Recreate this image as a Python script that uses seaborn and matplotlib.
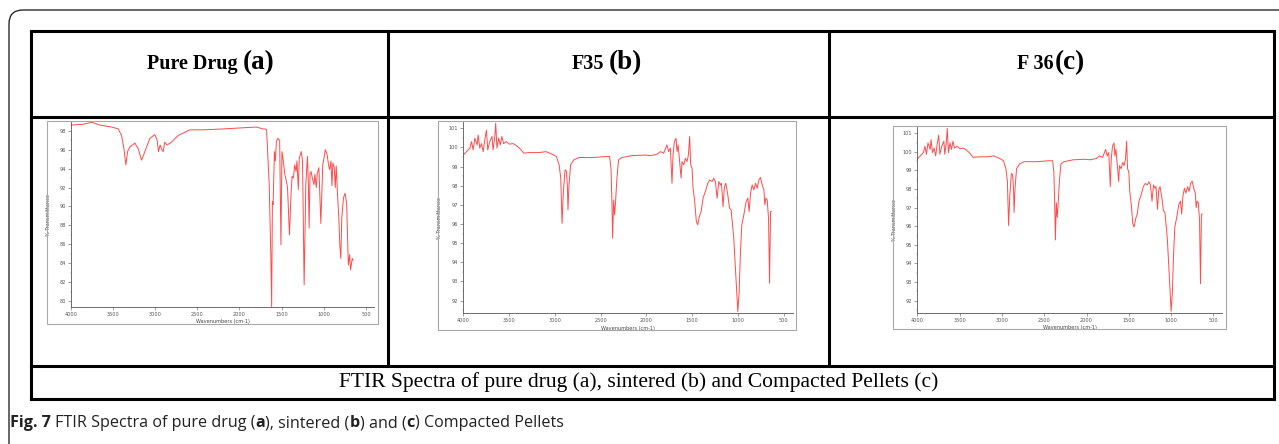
import matplotlib
matplotlib.use("Agg")
import matplotlib.pyplot as plt
import seaborn as sns
from matplotlib.patches import Rectangle, FancyBboxPatch
from matplotlib.lines import Line2D
from matplotlib.ticker import MultipleLocator
from matplotlib.transforms import IdentityTransform

# pure drug spectrum (a)
pure_wavenumber = [4000, 3850, 3752, 3653, 3515, 3436, 3397, 3369, 3346, 3326, 3298, 3239, 3200, 3160, 3121,
                   3062, 3003, 2975, 2960, 2940, 2920, 2904, 2885, 2857, 2806, 2727, 2589, 2431, 2195, 1998,
                   1801, 1722, 1700, 1678, 1647, 1628, 1618, 1609, 1601, 1585, 1574, 1562, 1543, 1523, 1508,
                   1496, 1484, 1461, 1446, 1430, 1407, 1388, 1376, 1360, 1345, 1329, 1318, 1302, 1291, 1267,
                   1252, 1233, 1213, 1194, 1182, 1174, 1163, 1151, 1136, 1116, 1105, 1089, 1077, 1058, 1035,
                   1012, 981, 961, 942, 930, 915, 903, 892, 876, 864, 853, 837, 822, 810, 798,
                   787, 767, 748, 729, 709, 694, 682, 663, 652]
pure_transmittance = [98.6, 98.7, 98.9, 98.6, 98.4, 98.2, 97.5, 96.1, 94.4, 95.8, 96.3, 96.7, 96.1, 94.9, 95.8,
                      97.2, 97.6, 97.0, 95.8, 96.5, 96.0, 95.8, 96.8, 96.5, 96.8, 97.5, 98.1, 98.1, 98.2, 98.3,
                      98.4, 98.2, 98.2, 98.1, 92.3, 84.9, 79.4, 90.5, 90.2, 95.8, 94.8, 96.9, 97.2, 97.0, 85.95,
                      95.8, 95.1, 93.35, 92.8, 92.0, 87.0, 91.3, 93.2, 93.0, 94.4, 93.7, 94.8, 91.8, 95.1, 95.8,
                      94.8, 81.7, 92.3, 95.3, 92.3, 87.7, 93.4, 93.7, 93.0, 92.3, 93.4, 92.0, 93.5, 94.1, 88.2,
                      94.4, 96.0, 95.5, 94.3, 93.9, 94.8, 92.2, 94.6, 94.1, 92.0, 94.3, 91.3, 88.8, 85.95, 84.5,
                      88.8, 90.9, 91.4, 90.3, 83.8, 84.9, 83.3, 84.5, 84.3]

# pellet spectrum, F35 (b) and F36 (c) show the same trace
pellet_wavenumber = [4000, 3964, 3928, 3910, 3892, 3874, 3848, 3838, 3820, 3801, 3783, 3765, 3747, 3733, 3711,
                     3686, 3675, 3657, 3646, 3632, 3614, 3596, 3578, 3560, 3531, 3495, 3458, 3422, 3386, 3339,
                     3278, 3170, 3098, 3025, 2982, 2953, 2935, 2921, 2906, 2888, 2874, 2863, 2856, 2845, 2827,
                     2791, 2736, 2592, 2448, 2401, 2386, 2376, 2368, 2357, 2346, 2336, 2321, 2303, 2267, 2159,
                     2015, 1956, 1883, 1847, 1810, 1774, 1756, 1737, 1719, 1708, 1693, 1675, 1664, 1653, 1639,
                     1620, 1610, 1591, 1573, 1555, 1540, 1526, 1515, 1500, 1489, 1471, 1453, 1438, 1420, 1401,
                     1380, 1354, 1328, 1307, 1281, 1263, 1245, 1226, 1208, 1190, 1179, 1161, 1146, 1131, 1109,
                     1091, 1073, 1044, 1022, 1000, 985, 971, 956, 934, 909, 890, 876, 861, 843, 825,
                     806, 788, 770, 752, 733, 715, 704, 693, 679, 664, 653, 642, 631]
pellet_transmittance = [99.6, 99.78, 99.96, 100.3, 99.87, 100.48, 100.13, 100.65, 99.96, 100.2, 99.78, 100.4, 100.9, 99.87, 100.3,
                        100.57, 99.87, 100.48, 101.26, 99.96, 100.48, 100.13, 100.57, 100.2, 100.3, 100.17, 100.2, 100.1, 99.96, 99.7,
                        99.73, 99.73, 99.78, 99.64, 99.52, 99.09, 98.4, 96.04, 97.7, 98.83, 98.77, 98.04, 96.74, 98.04, 99.09,
                        99.35, 99.47, 99.47, 99.52, 99.52, 98.91, 97.17, 95.26, 97.26, 96.48, 97.17, 98.4, 99.35, 99.47, 99.57,
                        99.6, 99.57, 99.64, 99.78, 99.7, 100.13, 99.78, 99.96, 98.13, 99.6, 100.3, 100.48, 99.78, 100.13, 99.43,
                        98.4, 99.26, 99.09, 99.43, 99.26, 99.6, 100.57, 99.09, 98.91, 97.87, 97.17, 96.13, 95.96, 96.39, 96.65,
                        97.35, 97.7, 98.13, 98.3, 98.22, 98.39, 98.22, 97.35, 98.22, 98.04, 98.13, 96.91, 97.96, 98.13, 97.52,
                        96.83, 96.74, 95.26, 93.35, 91.43, 92.48, 94.57, 95.96, 96.48, 97.17, 97.35, 96.65, 97.61, 98.04, 97.78,
                        98.13, 97.87, 98.3, 98.43, 98.04, 97.78, 97.0, 97.35, 97.26, 96.3, 92.91, 96.65, 96.65]

header_names = ["Pure Drug", "F35", "F 36"]
header_tags = ["(a)", "(b)", "(c)"]
x_ticks = [4000, 3500, 3000, 2500, 2000, 1500, 1000, 500]
pure_yticks = [80, 82, 84, 86, 88, 90, 92, 94, 96, 98]
pellet_yticks = [92, 93, 94, 95, 96, 97, 98, 99, 100, 101]
table_caption = "FTIR Spectra of pure drug (a), sintered (b) and Compacted Pellets (c)"

W, H = 1279, 444
sns.set_style("white")
plt.rcParams["font.family"] = ["DejaVu Sans"]

fig = plt.figure(figsize=(W / 100, H / 100), dpi=100)
PX = IdentityTransform()


def add_axes_px(left, top, right, bottom):
    return fig.add_axes([left / W, 1 - bottom / H, (right - left) / W, (bottom - top) / H])


def hline(y, x0, x1, lw=2.2, color="black"):
    fig.add_artist(Line2D([x0, x1], [H - y, H - y], transform=PX, lw=lw, color=color,
                          solid_capstyle="projecting"))


def vline(x, y0, y1, lw=2.2, color="black"):
    fig.add_artist(Line2D([x, x], [H - y0, H - y1], transform=PX, lw=lw, color=color,
                          solid_capstyle="projecting"))


def rich_text(x, y, parts, center=False):
    # parts: (text, gap before in px, text kwargs)
    r = fig.canvas.get_renderer()
    items = []
    for s, gap, kw in parts:
        t = fig.text(0, H - y, s, transform=PX, va="baseline", ha="left", **kw)
        items.append((t, t.get_window_extent(r).width, gap))
    total = sum(w + g for _, w, g in items)
    cx = x - total / 2 if center else x
    for t, w, g in items:
        t.set_x(cx + g)
        cx += g + w


# outer rounded frame of the figure box
fig.add_artist(FancyBboxPatch((9, -60), 1320, H - 10 + 60, boxstyle="round,pad=0,rounding_size=14",
                              transform=PX, fill=False, lw=1.0, ec="#2a2a2a"))

# table grid
hline(31, 31, 1274)
hline(117, 31, 1274)
hline(366, 31, 1274)
hline(399, 31, 1274)
vline(31, 31, 399)
vline(1274, 31, 399)
vline(388, 31, 366)
vline(829, 31, 366)

# headers
serif_b = dict(family="Liberation Serif", weight="bold", color="black")
col_centers = [211, 607, 1051]
gaps = [5, 5, 2]
for cx, name, tag, g in zip(col_centers, header_names, header_tags, gaps):
    rich_text(cx, 69, [(name, 0, dict(size=14.5, **serif_b)), (tag, g, dict(size=19.5, **serif_b))], center=True)

fig.text(639, H - 387, table_caption, transform=PX, ha="center", va="baseline",
         family="Liberation Serif", size=15.5, color="black")

bold = dict(family="Open Sans", weight="bold", size=11.6, color="#222222")
norm = dict(family="Open Sans", size=11.6, color="#222222")
rich_text(10, 427, [("Fig. 7", 0, bold), ("FTIR Spectra of pure drug (", 4, norm), ("a", 0, bold),
                    ("), sintered (", 0, norm), ("b", 0, bold), (") and (", 0, norm), ("c", 0, bold),
                    (") Compacted Pellets", 0, norm)])

# panel frames (the pasted spectrum pictures)
for (l, t, r, b) in [(47, 121, 378, 324), (438, 121, 796, 330), (893, 126, 1226, 329)]:
    fig.add_artist(Rectangle((l, H - b), r - l, b - t, transform=PX, fill=False, lw=0.8, ec="#a8a8a8"))

panels = [
    (add_axes_px(70.7, 122.3, 374.4, 306.7), pure_wavenumber, pure_transmittance, (79.4, 98.9), pure_yticks, 1),
    (add_axes_px(463.3, 122.3, 792.7, 313.3), pellet_wavenumber, pellet_transmittance, (91.34, 101.31), pellet_yticks, 0.5),
    (add_axes_px(917.3, 126.7, 1221.9, 313.3), pellet_wavenumber, pellet_transmittance, (91.32, 101.35), pellet_yticks, 0.5),
]

for ax, wn, tr, ylim, yticks, yminor in panels:
    sns.lineplot(x=wn, y=tr, ax=ax, color="#ff2b2b", lw=0.7, sort=False, estimator=None, alpha=0.85)
    ax.set_xlim(4000, 400)
    ax.set_ylim(*ylim)
    ax.set_xticks(x_ticks)
    ax.set_yticks(yticks)
    ax.xaxis.set_minor_locator(MultipleLocator(100))
    ax.yaxis.set_minor_locator(MultipleLocator(yminor))
    ax.patch.set_alpha(0)
    for side in ["top", "right"]:
        ax.spines[side].set_visible(False)
    for side in ["left", "bottom"]:
        ax.spines[side].set_color("#555555")
        ax.spines[side].set_linewidth(0.6)
    ax.tick_params(which="major", length=2, width=0.4, labelsize=3.6, colors="#555555", pad=1.5,
                   bottom=True, left=True)
    ax.tick_params(which="minor", length=1, width=0.3, colors="#777777", bottom=True, left=True)
    ax.set_xlabel("Wavenumbers (cm-1)", fontsize=3.6, color="#444444")
    ax.set_ylabel("% Transmittance", fontsize=3.6, color="#444444")
    ax.xaxis.set_label_coords(0.5, -0.065)
    ax.yaxis.set_label_coords(-0.066, 0.5)

fig.savefig("out.png", dpi=100)
